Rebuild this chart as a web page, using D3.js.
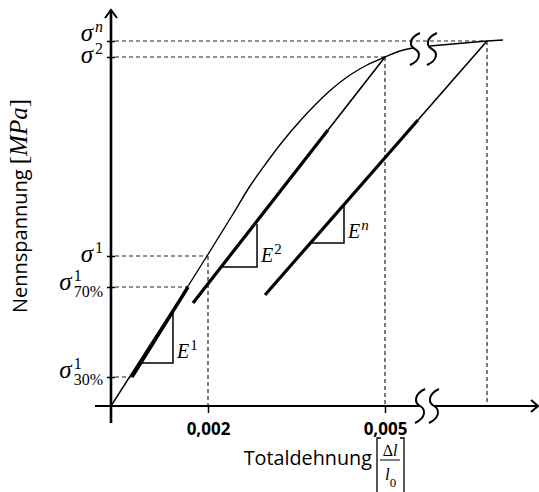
<!DOCTYPE html>
<html>
<head>
<meta charset="utf-8">
<script src="https://cdn.jsdelivr.net/npm/d3@7/dist/d3.min.js"></script>
<style>
  body { margin: 0; background: #fff; }
  svg { display: block; }
</style>
</head>
<body>
<svg width="539" height="492"></svg>
<script>
// values (strain axis is schematic, broken after 0,005)
var xTickValues = [0.002, 0.005];
var xTickLabels = ["0,002", "0,005"];

var stressLevels = [29, 119, 150, 349, 365];     // σ¹30%, σ¹70%, σ¹, σ², σⁿ
var stressSup = ["1", "1", "1", "2", "n"];
var stressSub = ["30%", "70%", "", "", ""];
var guideStrain = [0.000433, 0.001588, 0.002, 0.005, 0.008];
var guideDrop = [false, false, true, true, true];

var curveStrain = [0, 0.000804, 0.001629, 0.001979, 0.002424, 0.002712, 0.003, 0.003271,
  0.003559, 0.003847, 0.004119, 0.004407, 0.004695, 0.005, 0.005441, 0.005824];
var curveStress = [0, 61, 123, 150, 192, 220, 244, 265, 285, 303, 318, 331, 341, 349, 355, 358];

var afterBreakStrain = [0.006324, 0.008, 0.00847];
var afterBreakStress = [360, 365, 366];

// [start, thick end, end] of each straight line
var line1 = [[0.000433, 29], [0.001588, 119]];
var line2 = [[0.001691, 103], [0.004034, 276], [0.005, 349]];
var lineN = [[0.002966, 111], [0.00597, 286], [0.008, 365]];

var triangles = [
  { name: "1", pts: [[0.000577, 43], [0.001278, 43], [0.001278, 95]] },
  { name: "2", pts: [[0.002254, 139], [0.002831, 139], [0.002831, 182]] },
  { name: "n", pts: [[0.003746, 163], [0.004305, 163], [0.004305, 200]] }
];

var axisBreak = [0.00603, 0.00644];
var curveBreak = [0.00588, 0.00638];
var curveBreakStress = 357;

// layout
var labelNudge = [1, 3, 6, 6, 0];
var serif = "'Liberation Serif', 'DejaVu Serif', serif";
var sans = "'Open Sans', 'Noto Sans', sans-serif";

var svg = d3.select("svg");

var x = d3.scaleLinear()
  .domain([0, 0.002, 0.005, 0.008])
  .range([111, 208, 385, 487]);
var y = d3.scaleLinear()
  .domain([0, 400])
  .range([406, 6]);

var line = d3.line().x(function (d) { return x(d[0]); }).y(function (d) { return y(d[1]); });

// dashed guides
var guides = svg.append("g")
  .attr("stroke", "#222").attr("stroke-width", 1.2).attr("stroke-dasharray", "4,3").attr("fill", "none");
stressLevels.forEach(function (s, i) {
  guides.append("line")
    .attr("x1", x(0) + 4).attr("x2", x(guideStrain[i]))
    .attr("y1", y(s)).attr("y2", y(s));
  if (guideDrop[i]) {
    guides.append("line")
      .attr("x1", x(guideStrain[i])).attr("x2", x(guideStrain[i]))
      .attr("y1", y(s)).attr("y2", y(0));
  }
});

// axes
var axisG = svg.append("g").attr("stroke", "#000").attr("fill", "none").attr("stroke-linecap", "butt");
axisG.append("line").attr("x1", x(0)).attr("x2", x(0)).attr("y1", y(0) + 17).attr("y2", 10).attr("stroke-width", 2.6);
axisG.append("line").attr("x1", x(0) - 16).attr("x2", x(axisBreak[0])).attr("y1", y(0)).attr("y2", y(0)).attr("stroke-width", 2.2);
axisG.append("line").attr("x1", x(axisBreak[1])).attr("x2", 538).attr("y1", y(0)).attr("y2", y(0)).attr("stroke-width", 2.2);
axisG.append("path").attr("d", "M" + (x(0) - 6) + ",18L" + x(0) + ",10L" + (x(0) + 6) + ",18").attr("stroke-width", 2);
axisG.append("path").attr("d", "M531,400L538,406L531,412").attr("stroke-width", 2);

function breakPath(cx, cy, h) {
  return "M" + (cx + 5) + "," + (cy - h) +
    "C" + (cx - 6) + "," + (cy - h * 0.7) + " " + (cx - 6) + "," + (cy - h * 0.2) + " " + cx + "," + cy +
    "C" + (cx + 6) + "," + (cy + h * 0.2) + " " + (cx + 6) + "," + (cy + h * 0.7) + " " + (cx - 5) + "," + (cy + h);
}
axisBreak.forEach(function (b) {
  axisG.append("path").attr("d", breakPath(x(b), y(0), 17)).attr("stroke-width", 2);
});

var xAxis = svg.append("g")
  .attr("transform", "translate(0," + y(0) + ")")
  .call(d3.axisBottom(x).tickValues(xTickValues).tickSize(7).tickPadding(10)
    .tickFormat(function (d, i) { return xTickLabels[i]; }));
xAxis.select(".domain").remove();
xAxis.selectAll(".tick line").attr("stroke", "#000").attr("stroke-width", 1.5);
xAxis.selectAll(".tick text").attr("fill", "#000")
  .style("font-family", sans).style("font-weight", "bold").style("font-size", "17px");

var yAxis = svg.append("g")
  .attr("transform", "translate(" + (x(0) + 4) + ",0)")
  .call(d3.axisLeft(y).tickValues(stressLevels).tickSize(8).tickFormat(""));
yAxis.select(".domain").remove();
yAxis.selectAll(".tick line").attr("stroke", "#000").attr("stroke-width", 1.5);

// stress tick labels
stressLevels.forEach(function (s, i) {
  var b = y(s) + labelNudge[i];
  var g = svg.append("g").attr("fill", "#000").style("font-family", serif);
  var sup = g.append("text").attr("y", b - 9).style("font-size", "16px")
    .style("font-style", isNaN(+stressSup[i]) ? "italic" : "normal").text(stressSup[i]);
  var sub = g.append("text").attr("y", b + 7).style("font-size", "16px").text(stressSub[i]);
  var w = Math.max(sup.node().getComputedTextLength(), sub.node().getComputedTextLength());
  var x0 = 103 - w;
  sup.attr("x", x0);
  sub.attr("x", x0);
  g.append("text").attr("x", x0 - 2).attr("y", b).attr("text-anchor", "end")
    .style("font-size", "25px").style("font-style", "italic").text("σ");
});

// stress-strain curve
var curvePts = curveStrain.map(function (e, i) { return [e, curveStress[i]]; });
svg.append("path").datum(curvePts)
  .attr("d", line.curve(d3.curveMonotoneX))
  .attr("fill", "none").attr("stroke", "#000").attr("stroke-width", 1.4);
line.curve(d3.curveLinear);

var afterPts = afterBreakStrain.map(function (e, i) { return [e, afterBreakStress[i]]; });
svg.append("path").datum(afterPts).attr("d", line)
  .attr("fill", "none").attr("stroke", "#000").attr("stroke-width", 1.4);

curveBreak.forEach(function (b) {
  svg.append("path").attr("d", breakPath(x(b), y(curveBreakStress), 16))
    .attr("fill", "none").attr("stroke", "#000").attr("stroke-width", 2);
});

// unloading lines
svg.append("path").datum(line1).attr("d", line).attr("fill", "none").attr("stroke", "#000").attr("stroke-width", 3.4);
[line2, lineN].forEach(function (l) {
  svg.append("path").datum([l[0], l[1]]).attr("d", line)
    .attr("fill", "none").attr("stroke", "#000").attr("stroke-width", 3.2);
  svg.append("path").datum([l[1], l[2]]).attr("d", line)
    .attr("fill", "none").attr("stroke", "#000").attr("stroke-width", 1.6);
});

// slope triangles with E labels
triangles.forEach(function (t) {
  svg.append("path").datum(t.pts).attr("d", line)
    .attr("fill", "none").attr("stroke", "#000").attr("stroke-width", 1.5);
  var lx = x(t.pts[1][0]) + 4, ly = y(t.pts[1][1]) - 5;
  var txt = svg.append("text").attr("x", lx).attr("y", ly).attr("fill", "#000")
    .style("font-family", serif).style("font-size", "20px");
  txt.append("tspan").style("font-style", "italic").text("E");
  txt.append("tspan").attr("dx", 1).attr("dy", -8).style("font-size", "15px")
    .style("font-style", isNaN(+t.name) ? "italic" : "normal").text(t.name);
});

// axis titles
var xt = svg.append("g").attr("fill", "#000");
xt.append("text").attr("x", 372).attr("y", 465).attr("text-anchor", "end")
  .style("font-family", sans).style("font-size", "19.8px").text("Totaldehnung");
var br = svg.append("g").attr("stroke", "#000").attr("fill", "none").attr("stroke-width", 1.3);
br.append("path").attr("d", "M381,438H377V496H381");
br.append("path").attr("d", "M400,438H404V496H400");
br.append("line").attr("x1", 380).attr("x2", 400).attr("y1", 460).attr("y2", 460).attr("stroke-width", 1);
var num = xt.append("text").attr("x", 390).attr("y", 456).attr("text-anchor", "middle")
  .style("font-family", serif).style("font-size", "16px");
num.append("tspan").text("Δ");
num.append("tspan").style("font-style", "italic").text("l");
var den = xt.append("text").attr("x", 385).attr("y", 480)
  .style("font-family", serif).style("font-size", "17px");
den.append("tspan").style("font-style", "italic").text("l");
den.append("tspan").attr("dy", 7).style("font-size", "13px").text("0");

var yt = svg.append("text").attr("transform", "translate(27,206) rotate(-90)")
  .attr("text-anchor", "middle").attr("fill", "#000").style("font-size", "20px");
yt.append("tspan").style("font-family", sans).text("Nennspannung ");
yt.append("tspan").style("font-family", serif).style("font-size", "25px").text("[");
yt.append("tspan").style("font-family", serif).style("font-size", "25px").style("font-style", "italic").text("MPa");
yt.append("tspan").style("font-family", serif).style("font-size", "25px").text("]");
</script>
</body>
</html>
